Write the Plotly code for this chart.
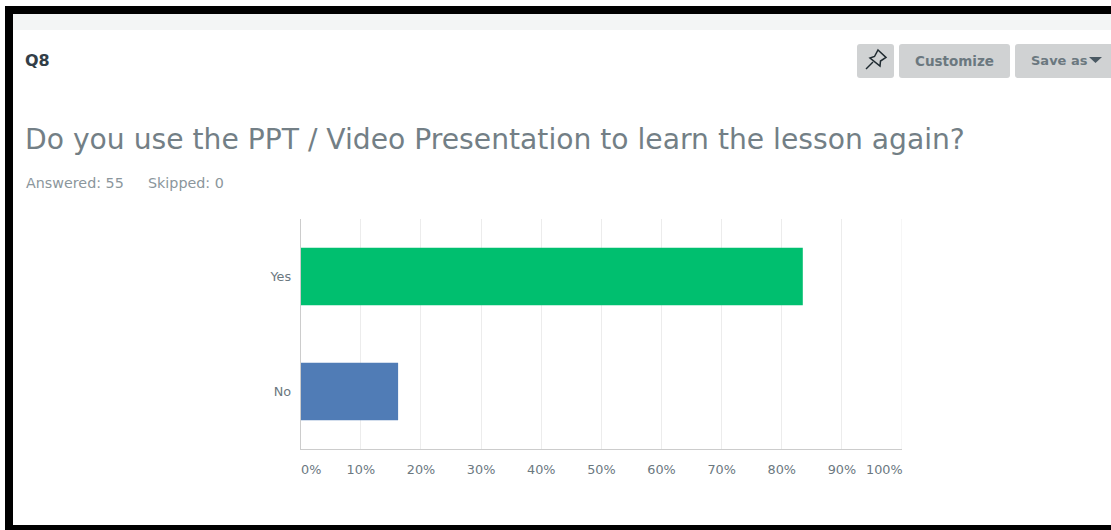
import plotly.graph_objects as go

# Survey results for Q8 (46 and 9 of 55 respondents)
categories = ["No", "Yes"]
percentages = [16.2, 83.5]
bar_colors = ["#507cb6", "#00bf6f"]
tick_values = [10, 20, 30, 40, 50, 60, 70, 80, 90]
tick_labels = ["10%", "20%", "30%", "40%", "50%", "60%", "70%", "80%", "90%"]

W, H = 1111, 530
FONT = "DejaVu Sans"
GREY_TEXT = "#6b787f"


def fx(px):
    return px / W


def fy(py):
    return 1 - py / H


def paper_path(points, close=True):
    cmds = [f"{'M' if i == 0 else 'L'}{fx(x):.5f},{fy(y):.5f}" for i, (x, y) in enumerate(points)]
    return " ".join(cmds) + (" Z" if close else "")


def round_rect(x0, y0, x1, y1, r=3):
    sx, sy = r / W, r / H
    a, b, c, d = fx(x0), fx(x1), fy(y0), fy(y1)
    return (
        f"M{a + sx:.5f},{c:.5f} L{b - sx:.5f},{c:.5f} Q{b:.5f},{c:.5f} {b:.5f},{c - sy:.5f} "
        f"L{b:.5f},{d + sy:.5f} Q{b:.5f},{d:.5f} {b - sx:.5f},{d:.5f} "
        f"L{a + sx:.5f},{d:.5f} Q{a:.5f},{d:.5f} {a:.5f},{d + sy:.5f} "
        f"L{a:.5f},{c - sy:.5f} Q{a:.5f},{c:.5f} {a + sx:.5f},{c:.5f} Z"
    )


def box(x0, y0, x1, y1, color):
    return dict(type="rect", xref="paper", yref="paper", x0=fx(x0), x1=fx(x1),
                y0=fy(y1), y1=fy(y0), fillcolor=color, line_width=0, layer="below")


def filled(path, color):
    return dict(type="path", xref="paper", yref="paper", path=path,
                fillcolor=color, line_width=0, layer="below")


def label(text, x, y, size, color, anchor="left", weight="normal"):
    return dict(text=text, xref="paper", yref="paper", x=fx(x), y=fy(y), showarrow=False,
                xanchor=anchor, yanchor="middle", align=anchor, borderpad=0, borderwidth=0,
                font=dict(family=FONT, size=size, color=color, weight=weight))


shapes = [
    # Page frame and header strip
    box(5, 6, W, 14, "#000000"),
    box(5, 6, 13, 530, "#000000"),
    box(5, 525, W, 530, "#000000"),
    box(13, 14, W, 30, "#f3f5f5"),
    # Toolbar buttons
    filled(round_rect(857, 44, 894, 78), "#d0d2d3"),
    filled(round_rect(899, 44, 1010, 78), "#d0d2d3"),
    filled(round_rect(1015, 44, 1120, 78), "#d0d2d3"),
    filled(paper_path([(1089, 57), (1102, 57), (1095.5, 63)]), "#4a5963"),
    # Pin icon
    dict(type="path", xref="paper", yref="paper", layer="above",
         path=paper_path([(878, 50), (886, 57.5), (880.5, 61), (880, 66), (870, 58), (874.5, 56.5)]),
         line=dict(color="#1f2a30", width=1.5), fillcolor="rgba(0,0,0,0)"),
    dict(type="line", xref="paper", yref="paper", x0=fx(873), y0=fy(62), x1=fx(866), y1=fy(69),
         line=dict(color="#1f2a30", width=1.5)),
    # Closing gridline at the right edge of the plot
    dict(type="line", xref="x", yref="y domain", x0=100, x1=100, y0=0, y1=1,
         line=dict(color="#ececec", width=1), layer="below"),
]

annotations = [
    label("Q8", 24.5, 60.5, 16, "#333e48", weight="bold"),
    label("Customize", 954.5, 60.5, 13.5, GREY_TEXT, "center", "bold"),
    label("Save as", 1031, 60.5, 13, GREY_TEXT, "left", "bold"),
    label("Do you use the PPT / Video Presentation to learn the lesson again?", 24.5, 139, 28.2, "#737f86"),
    label("Answered: 55", 25.5, 183, 14.3, "#8b969c"),
    label("Skipped: 0", 147.5, 183, 14.3, "#8b969c"),
    # The end labels sit inside the plot width instead of centred on their ticks
    dict(text="0%", xref="x", yref="paper", x=0, y=fy(469.5), showarrow=False, xanchor="left",
         yanchor="middle", borderpad=0, borderwidth=0, font=dict(family=FONT, size=12.8, color=GREY_TEXT)),
    dict(text="100%", xref="x", yref="paper", x=100, xshift=1, y=fy(469.5), showarrow=False, xanchor="right",
         yanchor="middle", borderpad=0, borderwidth=0, font=dict(family=FONT, size=12.8, color=GREY_TEXT)),
]

fig = go.Figure(
    go.Bar(
        x=percentages,
        y=categories,
        orientation="h",
        width=0.5,
        marker=dict(color=bar_colors, line_width=0),
        hoverinfo="skip",
    )
)

fig.update_layout(
    width=W,
    height=H,
    margin=dict(l=0, r=0, t=0, b=0),
    paper_bgcolor="#ffffff",
    plot_bgcolor="#ffffff",
    showlegend=False,
    shapes=shapes,
    annotations=annotations,
    font=dict(family=FONT, color=GREY_TEXT),
    xaxis=dict(
        domain=[fx(300.7), fx(902)],
        range=[0, 100],
        tickmode="array",
        tickvals=tick_values + [100],
        ticktext=tick_labels + [""],
        tickfont=dict(size=12.8, color=GREY_TEXT),
        ticks="outside",
        ticklen=9,
        tickcolor="rgba(0,0,0,0)",
        showgrid=True,
        gridcolor="#ececec",
        gridwidth=1,
        zeroline=False,
        showline=True,
        linecolor="#cccccc",
        linewidth=1,
        anchor="y",
    ),
    yaxis=dict(
        domain=[fy(449), fy(219)],
        tickfont=dict(size=12.8, color=GREY_TEXT),
        ticks="outside",
        ticklen=6,
        tickcolor="rgba(0,0,0,0)",
        showgrid=False,
        zeroline=False,
        showline=True,
        linecolor="#cccccc",
        linewidth=1,
        anchor="x",
    ),
)

fig.write_html("out.html", config={"displayModeBar": False})
